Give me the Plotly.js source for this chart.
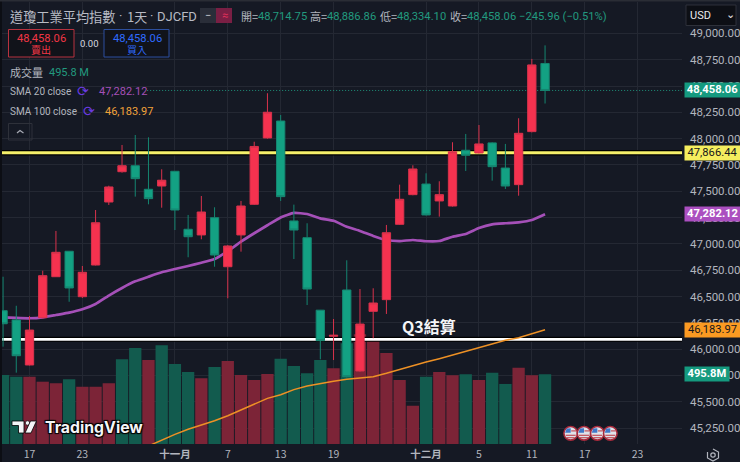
<!DOCTYPE html>
<html><head><meta charset="utf-8">
<script src="https://cdn.plot.ly/plotly-3.0.1.min.js"></script>
<style>html,body{margin:0;padding:0;background:#151924;overflow:hidden}</style></head>
<body><div id="c" style="width:740px;height:462px"></div>
<script>
const openP=[46365,46277,45849,46298,46688,46930,46498,46799,47398,47686,47743,47519,47550,47690,47139,47085,47249,46783,47085,47376,48007,48168,47218,47059,46370,46122,46562,45792,46359,46470,47186,47468,47569,47408,47360,47890,47864,47960,47721,47563,48067,48714.75];
const highP=[46688,46412,46315,46745,47123,46932,46790,47322,47553,47940,48035,48013,47709,47693,47275,47455,47348,46989,47408,47971,48432,48225,47373,47196,46372,46286,46844,46571,46578,47180,47563,47747,47671,47595,47966,48045,48130,47966,47950,48194,48758,48886.86];
const lowP=[46023,45776,45845,46290,46685,46450,46486,46795,47370,47677,47449,47376,47344,47132,46873,47044,46783,46483,46926,47370,48000,47408,46856,46419,45903,45896,45730,45785,46103,46334,47180,47462,47270,47259,47355,47693,47860,47601,47522,47458,48060,48334.10];
const closeP=[46241,45937,46181,46698,46920,46581,46730,47201,47541,47743,47620,47430,47605,47322,47068,47303,46894,46980,47360,47926,48251,47449,47132,46571,46080,46131,45738,46238,46438,47106,47424,47712,47275,47468,47876,47842,47950,47734,47550,48051,48701,48458.06];
const volumeM=[491,479,479,443,432,460,407,407,432,602,683,597,702,569,512,467,547,590,491,455,498,606,555,503,597,538,716,780,744,647,455,272,479,512,488,496,455,507,427,542,488,495.8];
const volumeUp=[0,0,1,1,1,0,1,1,1,0,0,1,0,0,0,1,0,1,1,1,1,0,0,0,0,1,0,1,1,1,1,1,0,1,1,0,1,0,0,1,1,0];
const sma20=[46302,46296,46293,46302,46324,46346,46378,46429,46509,46581,46644,46688,46730,46761,46790,46821,46856,46932,47021,47101,47177,47251,47294,47284,47243,47220,47163,47123,47075,47037,47027,47037,47025,47027,47068,47094,47151,47186,47196,47205,47227,47282.12];
const sma100=[45079,45136,45190,45238,45278,45319,45367,45421,45478,45532,45566,45615,45649,45675,45694,45713,45725,45738,45770,45808,45842,45877,45909,45944,45985,46017,46051,46084,46108,46143,46183.97];
const sma100Start=11;
const yellowLevel=47866.44, whiteLevel=46093, lastClose=48458.06;
const xTickVals=[2,6,13,17,21,25,32,36,40,44,48];
const xTickText=['17','23','<b>十一月</b>','7','13','19','<b>十二月</b>','5','11','17','23'];
const priceTicks=[45250,45500,45750,46000,46250,46500,46750,47000,47250,47500,47750,48000,48250,48500,48750,49000];

const idx=openP.map((_,i)=>i);
const xRange=[-0.08,51.36], priceRange=[45098,49299], volRange=[0,3143];
const lineX=xRange;
const traces=[
 {type:'bar',x:idx,y:volumeM,yaxis:'y',marker:{color:volumeUp.map(u=>u?'#7c2437':'#125b4e'),line:{width:0}},hoverinfo:'skip'},
 {type:'scatter',mode:'lines',x:lineX,y:[yellowLevel,yellowLevel],yaxis:'y2',line:{color:'#000',width:5.5},hoverinfo:'skip'},
 {type:'scatter',mode:'lines',x:lineX,y:[yellowLevel,yellowLevel],yaxis:'y2',line:{color:'#f5f06a',width:3},hoverinfo:'skip'},
 {type:'scatter',mode:'lines',x:lineX,y:[whiteLevel,whiteLevel],yaxis:'y2',line:{color:'#000',width:5},hoverinfo:'skip'},
 {type:'scatter',mode:'lines',x:lineX,y:[whiteLevel,whiteLevel],yaxis:'y2',line:{color:'#ffffff',width:2.8},hoverinfo:'skip'},
 {type:'scatter',mode:'lines',x:[10.9,xRange[1]],y:[lastClose,lastClose],yaxis:'y2',line:{color:'#1f8f78',width:1,dash:'1px 2px'},hoverinfo:'skip'},
 {type:'scatter',mode:'lines',x:idx,y:sma20,yaxis:'y2',line:{color:'#a550b8',width:2.7,shape:'spline',smoothing:0.4},hoverinfo:'skip'},
 {type:'scatter',mode:'lines',x:sma100.map((_,i)=>i+sma100Start),y:sma100,yaxis:'y2',line:{color:'#ee9125',width:1.5},hoverinfo:'skip'},
 {type:'candlestick',x:idx,open:openP,high:highP,low:lowP,close:closeP,yaxis:'y3',whiskerwidth:0,
  increasing:{line:{color:'#d8324c',width:1},fillcolor:'#f5324f'},
  decreasing:{line:{color:'#158570',width:1},fillcolor:'#13a183'},hoverinfo:'skip'}
];
const PX=p=>(p-2)/680, PY=p=>(444-p)/442;
const NUM='Roboto, sans-serif', CJK='"Noto Sans CJK TC", sans-serif';
const grey='#b2b5be', up='#f23645', dn='#22997f';
function txt(px,py,text,color,size,extra){return Object.assign({xref:'paper',yref:'paper',x:PX(px),y:PY(py),text:text,showarrow:false,xanchor:'left',yanchor:'middle',borderpad:0,font:{family:NUM,size:size||11.5,color:color||grey}},extra||{});}
function tag(val,text,bg,fg,w,yref){return {xref:'paper',yref:yref||'y2',x:PX(683.5),y:val,text:text,showarrow:false,xanchor:'left',yanchor:'middle',width:w||55,height:13.5,align:'center',bgcolor:bg,borderpad:0,font:{family:NUM,size:11.2,color:fg}};}
function rect(x0,y0,x1,y1,fill,line,lw){return {type:'rect',xref:'paper',yref:'paper',x0:PX(x0),x1:PX(x1),y0:PY(y0),y1:PY(y1),fillcolor:fill,line:{color:line||'rgba(0,0,0,0)',width:lw||0}};}
function circ(cx,cy,r,fill,line,lw){return {type:'circle',xref:'paper',yref:'paper',x0:PX(cx-r),x1:PX(cx+r),y0:PY(cy+r),y1:PY(cy-r),fillcolor:fill,line:{color:line||'rgba(0,0,0,0)',width:lw||0}};}
function poly(pts,fill,line,lw){return {type:'path',xref:'paper',yref:'paper',path:'M'+pts.map(p=>PX(p[0])+','+PY(p[1])).join('L')+(fill?'Z':''),fillcolor:fill||'rgba(0,0,0,0)',line:{color:line||'rgba(0,0,0,0)',width:lw||0}};}
const titleGrey='#b8bbc4';
const annotations=[
 txt(9,16,'道瓊工業平均指數',titleGrey,13.2,{font:{family:CJK,size:13.2,color:titleGrey}}),
 txt(120,15,'·',titleGrey,13,{xanchor:'center'}),
 txt(126,16,'1天',titleGrey,13,{font:{family:CJK,size:13,color:titleGrey}}),
 txt(151,15,'·',titleGrey,13,{xanchor:'center'}),
 txt(156,16,'DJCFD',titleGrey,13),
 txt(208.5,15.5,'−','#c9ccd4',11,{xanchor:'center'}),
 txt(224.5,15.5,'≈','#e0305a',11,{xanchor:'center'}),
 txt(240,16,'開=',grey,11,{font:{family:CJK,size:11,color:grey}}), txt(257,16,'48,714.75',dn,11.2),
 txt(309,16,'高=',grey,11,{font:{family:CJK,size:11,color:grey}}), txt(326,16,'48,886.86',dn,11.2),
 txt(379,16,'低=',grey,11,{font:{family:CJK,size:11,color:grey}}), txt(396,16,'48,334.10',dn,11.2),
 txt(449,16,'收=',grey,11,{font:{family:CJK,size:11,color:grey}}), txt(466,16,'48,458.06',dn,11.2),
 txt(518,16,'−245.96 (−0.51%)',dn,11.2),
 txt(41,38,'48,458.06','#f23645',11.2,{xanchor:'center'}),
 txt(41,49.5,'賣出','#f23645',10,{xanchor:'center',font:{family:CJK,size:10,color:'#f23645'}}),
 txt(89,43,'0.00','#d8dae0',9.5,{xanchor:'center'}),
 txt(137,38,'48,458.06','#2f6bff',11.2,{xanchor:'center'}),
 txt(137,49.5,'買入','#2f6bff',10,{xanchor:'center',font:{family:CJK,size:10,color:'#2f6bff'}}),
 txt(9,72,'成交量',grey,11,{font:{family:CJK,size:11,color:grey}}), txt(48,72,'495.8 M',dn,11),
 txt(9,91.5,'SMA 20 close',grey,10), txt(83,91,'⟳','#6a3be0',14,{xanchor:'center',font:{family:'DejaVu Sans',size:14,color:'#6a3be0'}}), txt(98,91.5,'47,282.12','#a550b8',11),
 txt(9,111.5,'SMA 100 close',grey,10), txt(89,111,'⟳','#6a3be0',14,{xanchor:'center',font:{family:'DejaVu Sans',size:14,color:'#6a3be0'}}), txt(104,111.5,'46,183.97','#f2a33a',11),
 txt(689,15,'USD','#e8e9ec',11),
 txt(730,14,'⌄','#e8e9ec',11,{xanchor:'center',font:{family:'DejaVu Sans',size:11,color:'#e8e9ec'}}),
 txt(401,326,'<b>Q3結算</b>','#f4f5f7',16,{font:{family:CJK,size:16,color:'#f4f5f7'}}),
 txt(44,427,'<b>TradingView</b>','#f4f5f7',15.8,{font:{family:'Inter, sans-serif',size:15.8,color:'#f4f5f7',shadow:'1px 1px 1px #000, -1px -1px 1px #000, 1px -1px 1px #000, -1px 1px 1px #000'}}),
 tag(lastClose,'<b>48,458.06</b>','#159a7f','#ffffff'),
 tag(yellowLevel,'47,866.44','#f5ee5e','#17181c'),
 tag(sma20[sma20.length-1],'<b>47,282.12</b>','#ab4fc0','#ffffff'),
 tag(sma100[sma100.length-1],'46,183.97','#fb9a22','#17181c'),
 tag(volumeM[volumeM.length-1],'<b>495.8M</b>','#159a7f','#ffffff',44,'y')
];
const hex=[[713,449],[718.5,452],[718.5,458],[713,461],[707.5,458],[707.5,452]];
const shapes=[
 rect(0,0,2,462,'#0c0e14'), rect(0,0,740,1.5,'#2a2d35'),
 rect(8.5,29.5,74,57,'#11131a','#b8323f',1), rect(104,29.5,169,57,'#11131a','#2c4f9e',1),
 rect(686,5,736,25.5,'#0d0f15','#2e313a',1),
 rect(200,8,232,23,'#2a2e39'),
 rect(216,8,232,23,'#7a1f44'),
 rect(8.5,123.5,32,140,'rgba(0,0,0,0)','#2e313a',1),
 poly([[17,133],[20,130.5],[23.5,133]],null,'#a8abb5',1.2),
 poly(hex,null,'#b2b5be',1.2), circ(713,455,2.2,'rgba(0,0,0,0)','#b2b5be',1.2),
 poly([[12,421],[24,421],[24,433],[18.5,433],[18.5,425.5],[12,425.5]],'#f4f5f7','#000',0.8),
 circ(27.5,423,2.2,'#f4f5f7','#000',0.6),
 poly([[30.5,421],[36.5,421],[31,433],[25,433]],'#f4f5f7','#000',0.8)
];
[570.7,584,597.3,610.3].forEach(cx=>{const cy=433.3;
 shapes.push(circ(cx,cy,6.8,'#dfe3ea','#a82a3c',1.6));
 shapes.push(poly([[cx-5,cy+2],[cx+5,cy+2]],null,'#c2505a',1.2));
 shapes.push(poly([[cx-4,cy+4.4],[cx+4,cy+4.4]],null,'#c2505a',1.2));
 shapes.push(poly([[cx+0.5,cy-2.4],[cx+5.6,cy-2.4]],null,'#c2505a',1.2));
 shapes.push(poly([[cx-5.6,cy-0.6],[cx,cy-0.6],[cx,cy-5],[cx-4,cy-4.8]],'#3f78c8'));
});
const volGrid=priceTicks.map(p=>(p-priceRange[0])/(priceRange[1]-priceRange[0])*volRange[1]);
const layout={
 width:740,height:462,paper_bgcolor:'#151924',plot_bgcolor:'#151924',showlegend:false,bargap:0.07,boxgap:0.37,boxgroupgap:0,
 margin:{l:2,r:58,t:2,b:18,pad:0},
 font:{family:NUM,color:grey},
 xaxis:{range:xRange,tickmode:'array',tickvals:xTickVals,ticktext:xTickText,showgrid:true,gridcolor:'#242833',gridwidth:1,zeroline:false,
  showline:false,ticks:'',tickfont:{family:CJK,size:10.5,color:grey},ticklabelstandoff:2,rangeslider:{visible:false},fixedrange:true},
 yaxis:{range:volRange,tickmode:'array',tickvals:volGrid,showticklabels:false,showgrid:true,gridcolor:'#242833',gridwidth:1,zeroline:false,ticks:'',fixedrange:true},
 yaxis2:{overlaying:'y',side:'right',range:priceRange,tickmode:'array',tickvals:priceTicks,tickformat:',.2f',showgrid:false,zeroline:false,ticks:'',
  tickfont:{family:NUM,size:11.5,color:grey},ticklabelstandoff:7,fixedrange:true},
 yaxis3:{overlaying:'y',side:'right',range:priceRange,showticklabels:false,showgrid:false,zeroline:false,ticks:'',fixedrange:true},
 annotations:annotations,shapes:shapes
};
Plotly.newPlot('c',traces,layout,{displayModeBar:false,staticPlot:true});
</script></body></html>
